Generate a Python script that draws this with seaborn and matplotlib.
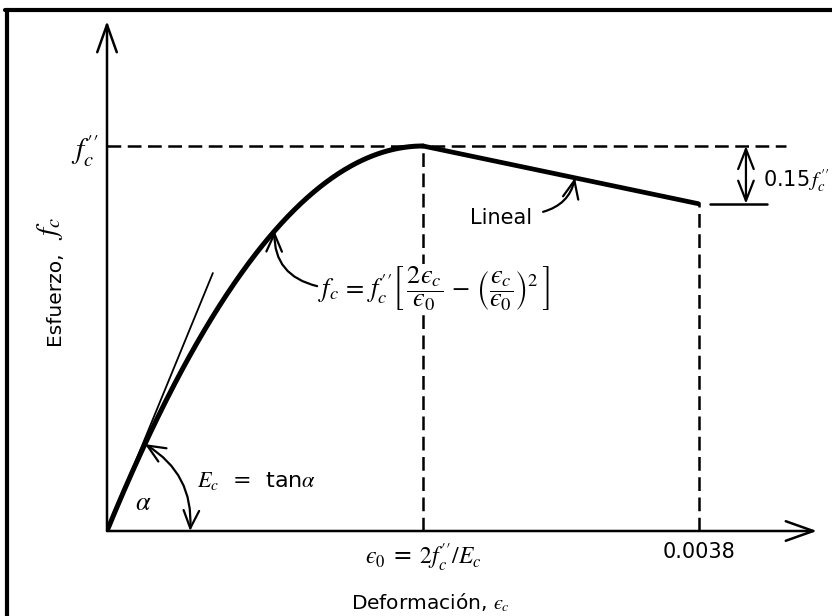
import numpy as np
import pandas as pd
import matplotlib
matplotlib.use("Agg")
import matplotlib.pyplot as plt
import seaborn as sns
from matplotlib.lines import Line2D

# Hognestad stress-strain model for concrete (stress normalised to f''c)
eps0 = 0.00203          # strain at peak stress
eps_cu = 0.0038         # ultimate strain
fc_peak = 1.0           # f''c
drop_ratio = 0.15       # loss of stress along the linear branch
tangent_extent = 0.335  # length of the initial tangent, as a fraction of eps0

EPS = "ϵ"  # lunate epsilon used for strains
x_tick_values = [eps0, eps_cu]
x_tick_labels = [rf"${EPS}_0$ = $2f_c^{{\prime\prime}}/E_c$", "0.0038"]
y_tick_values = [fc_peak]
y_tick_labels = [r"$f_c^{\prime\prime}$"]

sns.set_theme(style="white")
plt.rcParams["font.family"] = ["DejaVu Sans"]
plt.rcParams["mathtext.fontset"] = "stix"
plt.rcParams.update({"text.color": "black", "axes.labelcolor": "black",
                     "xtick.color": "black", "ytick.color": "black"})

W, H = 832, 616
fig = plt.figure(figsize=(W / 100, H / 100), dpi=100)
fig.patch.set_facecolor("white")

# axes placed so that the origin sits at the lower left of the diagram
ox, oy = 107, 531
ax_w, ax_h = 710, 510
ax = fig.add_axes([ox / W, (H - oy) / H, ax_w / W, ax_h / H])
ax.set_facecolor("white")
px_per_strain = 316 / eps0
px_per_stress = 385 / fc_peak
ax.set_xlim(0, ax_w / px_per_strain)
ax.set_ylim(0, ax_h / px_per_stress)


def parabola(strain):
    r = np.asarray(strain) / eps0
    return fc_peak * (2 * r - r ** 2)


# ascending parabolic branch and descending linear branch
strain_up = np.linspace(0, eps0, 300)
curve_up = pd.DataFrame({"strain": strain_up, "stress": parabola(strain_up)})
curve_down = pd.DataFrame({"strain": [eps0, eps_cu],
                           "stress": [fc_peak, fc_peak * (1 - drop_ratio)]})
f_end = fc_peak * (1 - drop_ratio)

dash = (0, (5.5, 2.6))
ax.plot([0, 2.15 * eps0], [fc_peak, fc_peak], color="black", lw=1.8,
        linestyle=dash, clip_on=False, zorder=2)
ax.plot([eps0, eps0], [0, fc_peak], color="black", lw=1.8, linestyle=dash, zorder=2)
ax.plot([eps_cu, eps_cu], [0, f_end], color="black", lw=1.8, linestyle=dash, zorder=2)

sns.lineplot(data=curve_up, x="strain", y="stress", color="black", lw=3.6,
             estimator=None, sort=False, ax=ax, zorder=4)
sns.lineplot(data=curve_down, x="strain", y="stress", color="black", lw=3.4,
             estimator=None, sort=False, ax=ax, zorder=4)

# initial tangent, slope E_c = 2 f''c / eps0
t_end = tangent_extent * eps0
ax.plot([0, t_end], [0, 2 * fc_peak * t_end / eps0], color="black", lw=1.3, zorder=3)

# axes with open arrowheads
axis_arrow = dict(arrowstyle="->,head_length=0.9,head_width=0.32", lw=1.8,
                  color="black", shrinkA=0, shrinkB=0, mutation_scale=22)
ax.annotate("", xy=(1, 0), xytext=(0, 0), xycoords="axes fraction",
            arrowprops=axis_arrow, annotation_clip=False)
ax.annotate("", xy=(0, 1), xytext=(0, 0), xycoords="axes fraction",
            arrowprops=axis_arrow, annotation_clip=False)
for s in ax.spines.values():
    s.set_visible(False)

ax.set_xticks(x_tick_values)
ax.set_xticklabels(x_tick_labels, fontsize=15)
ax.xaxis.get_ticklabels()[0].set_fontsize(17)
ax.set_yticks(y_tick_values)
ax.set_yticklabels(y_tick_labels, fontsize=21)
ax.tick_params(axis="x", length=0, pad=8)
ax.tick_params(axis="y", length=0, pad=6)
ax.grid(False)

ax.set_xlabel(rf"Deformación, ${EPS}_c$", fontsize=14.5)
ax.set_ylabel("Esfuerzo,", fontsize=14.5)
ax.xaxis.set_label_coords((430 - ox) / ax_w, (oy - 591) / ax_h)
ax.yaxis.set_label_coords((64 - ox) / ax_w, (oy - 298) / ax_h)
ax.text((50 - ox) / ax_w, (oy - 228) / ax_h, r"$f_c$", fontsize=21, rotation=90,
        ha="center", va="center", transform=ax.transAxes, clip_on=False)

# 0.15 f''c dimension on the right
x_dim = 2.022 * eps0
ax.annotate("", xy=(x_dim, f_end), xytext=(x_dim, fc_peak),
            arrowprops=dict(arrowstyle="<->,head_length=0.9,head_width=0.35",
                            lw=1.6, color="black", shrinkA=0, shrinkB=0,
                            mutation_scale=16),
            annotation_clip=False)
ax.plot([1.908 * eps0, 2.089 * eps0], [f_end, f_end], color="black", lw=1.8,
        clip_on=False)
ax.text(2.076 * eps0, 0.91, r"0.15$\,f_c^{\prime\prime}$", fontsize=15,
        ha="left", va="center", clip_on=False)

# "Lineal" label with its arrow
ax.text(1.247 * eps0, 0.813, "Lineal", fontsize=15, ha="center", va="center")
x_lin = 1.481 * eps0
y_lin = fc_peak - drop_ratio * fc_peak * (x_lin - eps0) / (eps_cu - eps0)
ax.annotate("", xy=(x_lin, y_lin), xytext=(1.38 * eps0, 0.829),
            arrowprops=dict(arrowstyle="->,head_length=0.8,head_width=0.35",
                            lw=1.6, color="black", shrinkA=0, shrinkB=0,
                            mutation_scale=16, connectionstyle="arc3,rad=0.3"))

# parabola equation with its arrow (white backing interrupts the dashed guide)
equation = (rf"$f_c\,=\,f_c^{{\prime\prime}}\left[\,\dfrac{{2{EPS}_c}}{{{EPS}_0}}"
            rf"\,-\,\left(\dfrac{{{EPS}_c}}{{{EPS}_0}}\right)^2\,\right]$")
ax.text(0.668 * eps0, 0.628, equation, fontsize=19, ha="left", va="center",
        zorder=5, bbox=dict(facecolor="white", edgecolor="none", pad=1))
x_eq = 0.53 * eps0
ax.annotate("", xy=(x_eq, float(parabola(x_eq))), xytext=(0.665 * eps0, 0.636),
            arrowprops=dict(arrowstyle="->,head_length=0.8,head_width=0.35",
                            lw=1.6, color="black", shrinkA=0, shrinkB=0,
                            mutation_scale=16, connectionstyle="arc3,rad=-0.4"),
            zorder=6)

# angle alpha between the initial tangent and the strain axis
x_al = 0.12 * eps0
ax.annotate("", xy=(x_al, float(parabola(x_al))), xytext=(0.263 * eps0, 0),
            arrowprops=dict(arrowstyle="<->,head_length=0.8,head_width=0.35",
                            lw=1.6, color="black", shrinkA=0, shrinkB=0,
                            mutation_scale=16, connectionstyle="arc3,rad=0.3"))
ax.text(0.114 * eps0, 0.073, r"$\alpha$", fontsize=19, ha="center", va="center")
ax.text(0.285 * eps0, 0.13, r"$E_c$  =  tan$\alpha$", fontsize=16,
        ha="left", va="center")

# frame lines along the top and left edges
fig.add_artist(Line2D([5 / W, 1], [1 - 10 / H, 1 - 10 / H], transform=fig.transFigure,
                      color="black", lw=3))
fig.add_artist(Line2D([7 / W, 7 / W], [0, 1 - 10 / H], transform=fig.transFigure,
                      color="black", lw=3))

fig.savefig("out.png", dpi=100, facecolor="white")
